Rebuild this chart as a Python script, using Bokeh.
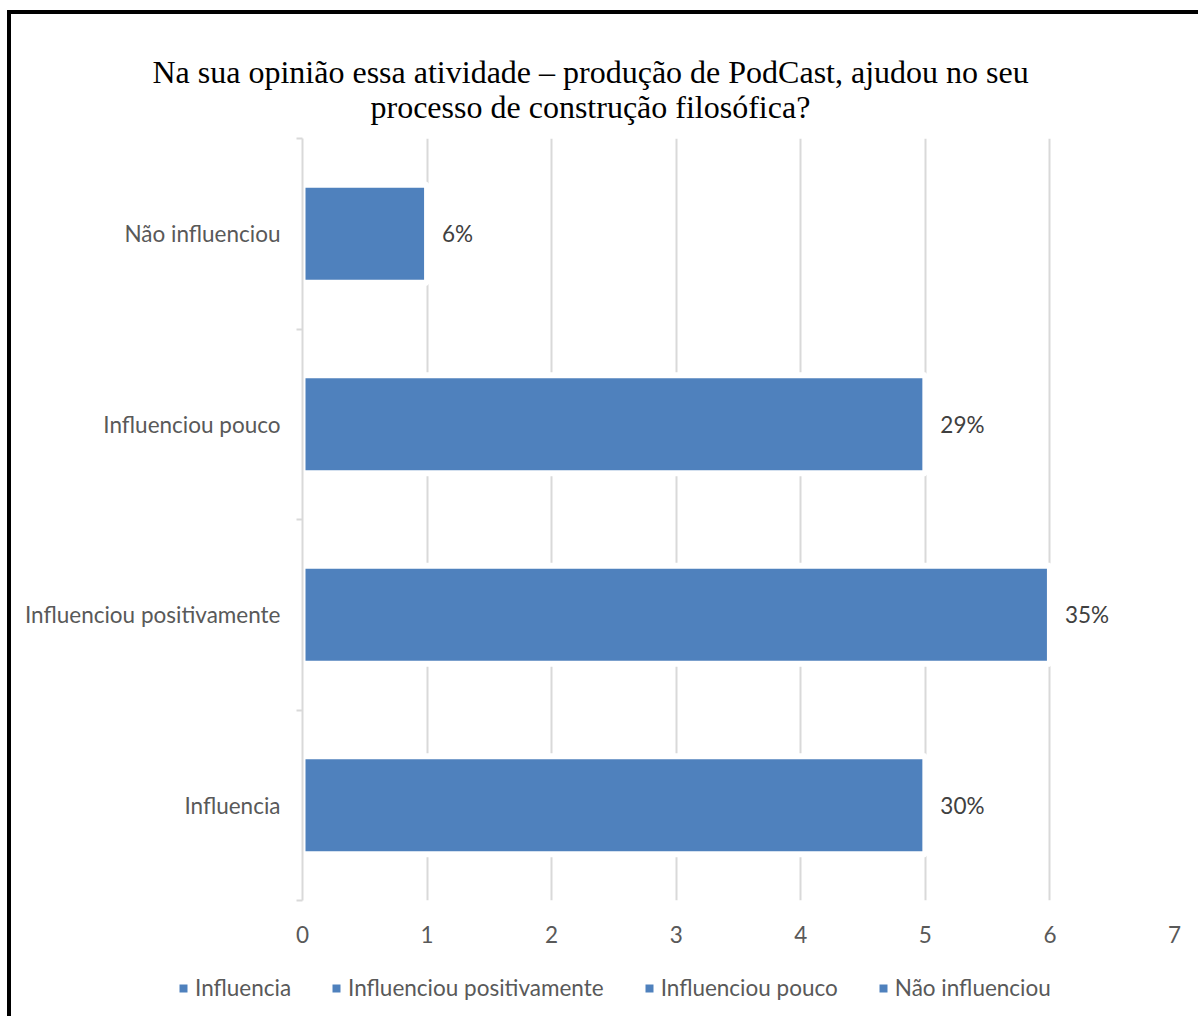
from bokeh.plotting import figure
from bokeh.layouts import column
from bokeh.models import (Range1d, FixedTicker, Legend, LegendItem, Title,
                          ColumnDataSource)
from bokeh.core.properties import value
from bokeh.embed import file_html
from bokeh.resources import INLINE

# ---- data ----
categories = ["Influencia", "Influenciou positivamente", "Influenciou pouco", "Não influenciou"]
values = [5, 6, 5, 1]
pct_labels = ["30%", "35%", "29%", "6%"]
x_ticks = [0, 1, 2, 3, 4, 5, 6, 7]
title_lines = ["Na sua opinião essa atividade – produção de PodCast, ajudou no seu",
               "processo de construção filosófica?"]

BAR = "#4F81BD"
GRAY = "#595959"
FONT = "Lato"
FS = "22.5px"

OX, OY = 11, 14  # canvas origin inside the black frame
W = 1198 - OX
MAIN_H = 960 - OY
LEG_H = 1016 - 960

p = figure(width=W, height=MAIN_H, output_backend="svg", toolbar_location=None,
           x_range=Range1d(0, 7), y_range=Range1d(0, len(categories)),
           min_border_left=302 - OX, min_border_right=24, min_border_top=138 - OY,
           min_border_bottom=MAIN_H - (900 - OY), title=None)
p.frame_align = False
p.outline_line_color = None
p.background_fill_color = "white"
p.border_fill_color = "white"

ypos = [i + 0.5 for i in range(len(categories))]

# grid
p.xgrid.ticker = FixedTicker(ticks=x_ticks)
p.xgrid.grid_line_color = "#D9D9D9"
p.xgrid.grid_line_width = 2
p.ygrid.grid_line_color = None

# x axis
p.xaxis.ticker = FixedTicker(ticks=x_ticks)
p.xaxis.axis_line_color = None
p.xaxis.major_tick_line_color = None
p.xaxis.minor_tick_line_color = None
p.xaxis.major_label_standoff = 19
p.xaxis.major_label_text_font = FONT
p.xaxis.major_label_text_font_size = FS
p.xaxis.major_label_text_color = GRAY

# y axis: labels at category centres, ticks at category boundaries
p.yaxis.ticker = FixedTicker(ticks=ypos, minor_ticks=list(range(len(categories) + 1)))
p.yaxis.major_label_overrides = {y: c for y, c in zip(ypos, categories)}
p.yaxis.axis_line_color = "#D9D9D9"
p.yaxis.axis_line_width = 2
p.yaxis.major_tick_line_color = None
p.yaxis.minor_tick_line_color = "#D9D9D9"
p.yaxis.minor_tick_line_width = 2
p.yaxis.minor_tick_out = 6
p.yaxis.minor_tick_in = 0
p.yaxis.major_label_standoff = 16
p.yaxis.major_label_text_font = FONT
p.yaxis.major_label_text_font_size = FS
p.yaxis.major_label_text_color = GRAY

for c, v, y in zip(categories, values, ypos):
    src = ColumnDataSource(dict(y=[y], right=[v]))
    p.hbar(y="y", right="right", left=0, height=0.515, source=src,
           fill_color=BAR, line_color="white", line_width=6)

src_l = ColumnDataSource(dict(x=values, y=ypos, t=pct_labels))
p.text(x="x", y="y", text="t", source=src_l, x_offset=15,
       text_align="left", text_baseline="middle", text_font=value(FONT),
       text_font_size=FS, text_color="#404040")

# title: two lines, second line added first (closest to the plot)
p.add_layout(Title(text=title_lines[1], align="left", offset=370 - 302,
                   text_font="Liberation Serif", text_font_size="32px",
                   text_font_style="normal", text_color="black", standoff=28), "above")
p.add_layout(Title(text=title_lines[0], align="left", offset=152 - 302,
                   text_font="Liberation Serif", text_font_size="32px",
                   text_font_style="normal", text_color="black", standoff=-35), "above")

# legend strip (separate figure below, series keys only)
lp = figure(width=W, height=LEG_H, output_backend="svg", toolbar_location=None,
            x_range=Range1d(100, 101), y_range=Range1d(100, 101),
            x_axis_location=None, y_axis_location=None, min_border=0, title=None)
lp.frame_align = False
lp.outline_line_color = None
lp.grid.grid_line_color = None
items = []
for c, v, y in zip(categories, values, ypos):
    src = ColumnDataSource(dict(y=[y], right=[v]))
    r = lp.hbar(y="y", right="right", left=0, height=0.515, source=src,
                fill_color=BAR, line_color=None)
    items.append(LegendItem(label=c, renderers=[r]))
legend = Legend(items=items, orientation="horizontal", location=(178 - OX, 15),
                glyph_width=10, glyph_height=10, label_standoff=7, spacing=40,
                padding=0, margin=0, border_line_color=None,
                background_fill_alpha=0, label_text_font=FONT,
                label_text_font_size=FS, label_text_color=GRAY)
lp.add_layout(legend, "center")

layout = column(p, lp, spacing=0,
                styles={"margin-left": "7px", "margin-top": "10px",
                        "border-left": "4px solid black", "border-top": "4px solid black"})

open("out.html", "w").write(file_html(layout, INLINE))
